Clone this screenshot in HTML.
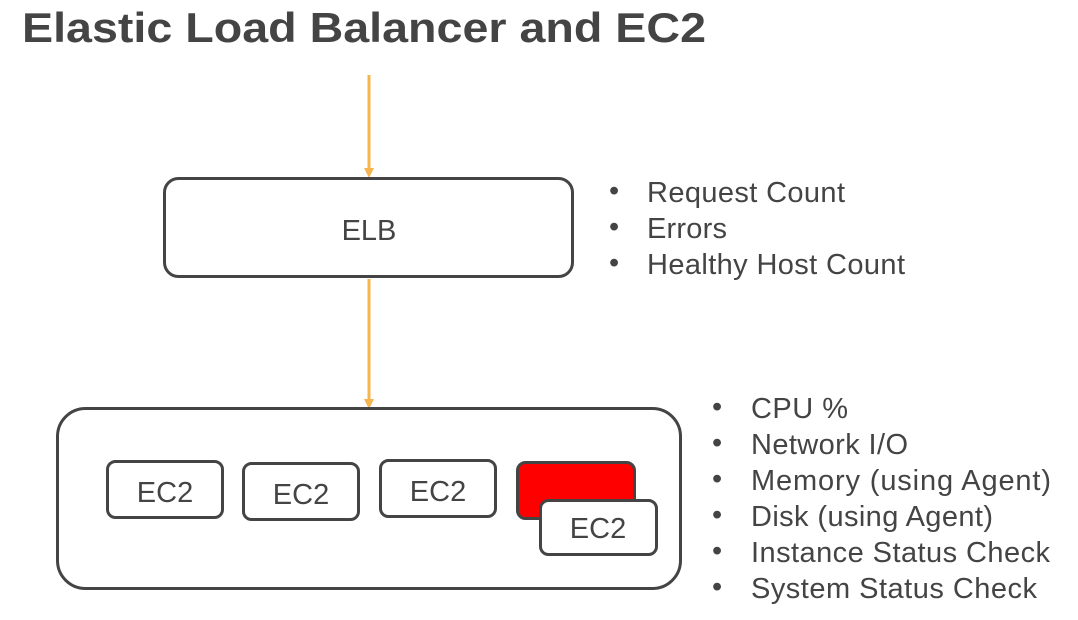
<!DOCTYPE html>
<html><head><style>
html,body{margin:0;padding:0;background:#fff;}
svg{display:block;font-family:"Liberation Sans",sans-serif;}
</style></head><body>
<svg width="1078" height="620" viewBox="0 0 1078 620">
<text x="22" y="42" font-size="42" font-weight="bold" fill="#444" textLength="684" lengthAdjust="spacingAndGlyphs">Elastic Load Balancer and EC2</text>
<g stroke="#f6b44f" stroke-width="3" fill="#f6b44f">
<line x1="369" y1="75" x2="369" y2="170"/>
<line x1="369" y1="279" x2="369" y2="401"/>
</g>
<polygon points="364,168 374,168 369,178" fill="#f6b44f"/>
<polygon points="364,399 374,399 369,409" fill="#f6b44f"/>
<g stroke="#444" stroke-width="3" fill="#fff">
<rect x="164.5" y="178.5" width="408" height="98" rx="14"/>
<rect x="57.5" y="408.5" width="623" height="180" rx="28"/>
<rect x="107.5" y="461.5" width="115" height="56" rx="8"/>
<rect x="243.5" y="463.5" width="115" height="56" rx="8"/>
<rect x="380.5" y="460.5" width="115" height="56" rx="8"/>
<rect x="517.5" y="462.5" width="117" height="56" rx="8" fill="#ff0000"/>
<rect x="540.5" y="500.5" width="116" height="54" rx="8"/>
</g>
<g font-size="29" fill="#444" text-anchor="middle">
<text x="369" y="240">ELB</text>
<text x="165" y="502">EC2</text>
<text x="301" y="504">EC2</text>
<text x="438" y="501">EC2</text>
<text x="598" y="538">EC2</text>
</g>
<g font-size="29" fill="#444" lengthAdjust="spacingAndGlyphs">
<text x="609" y="200">•</text><text x="647" y="202" textLength="198">Request Count</text>
<text x="609" y="236">•</text><text x="647" y="238" textLength="80">Errors</text>
<text x="609" y="272">•</text><text x="647" y="274" textLength="258">Healthy Host Count</text>
<text x="712" y="416">•</text><text x="751" y="418" textLength="97">CPU %</text>
<text x="712" y="452">•</text><text x="751" y="454" textLength="157">Network I/O</text>
<text x="712" y="488">•</text><text x="751" y="490" textLength="300">Memory  (using Agent)</text>
<text x="712" y="524">•</text><text x="751" y="526" textLength="242">Disk (using Agent)</text>
<text x="712" y="560">•</text><text x="751" y="562" textLength="299">Instance Status Check</text>
<text x="712" y="596">•</text><text x="751" y="598" textLength="286">System Status Check</text>
</g>
</svg>
</body></html>
